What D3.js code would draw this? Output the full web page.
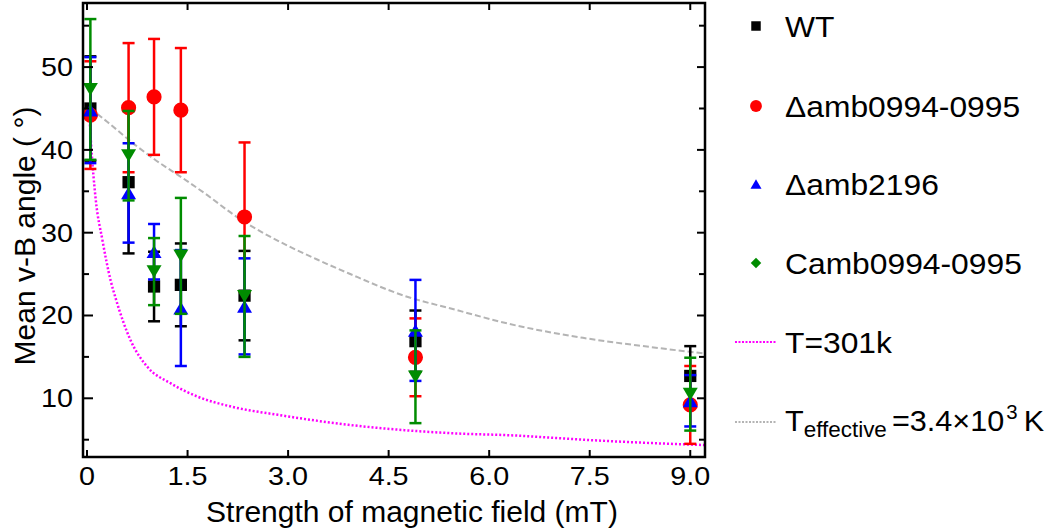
<!DOCTYPE html>
<html>
<head>
<meta charset="utf-8">
<script src="https://cdn.jsdelivr.net/npm/d3@7"></script>
<style>
  html, body { margin: 0; padding: 0; background: #fff; }
  svg { display: block; font-family: "Liberation Sans", Arial, sans-serif; }
</style>
</head>
<body>
<svg id="chart" width="1050" height="532"></svg>
<script>
// ---------- data ----------
const fieldStrength = [0.05, 0.62, 1.0, 1.4, 2.35, 4.9, 9.0];

const wtMean   = [45.0, 36.1, 23.5, 23.7, 22.4, 16.9, 12.7];
const wtErr    = [6.3, 8.6, 4.2, 5.0, 5.4, 3.7, 3.6];

const d0994Mean = [44.2, 45.1, 46.4, 44.8, 31.9, 14.95, 9.2];
const d0994Err  = [6.5, 7.8, 7.0, 7.5, 9.0, 4.7, 4.7];

const d2196Mean = [44.8, 34.8, 27.7, 20.9, 21.1, 18.2, 9.7];
const d2196Err  = [6.4, 6.0, 3.35, 7.0, 5.8, 6.1, 3.1];

const c0994Mean = [47.3, 39.3, 25.3, 27.2, 22.3, 12.6, 10.5];
const c0994Err  = [8.5, 5.4, 4.05, 7.0, 7.3, 5.6, 4.4];

// theory curves
const t301X = [0.03, 0.06, 0.13, 0.23, 0.35, 0.43, 0.65, 0.9, 1.25, 1.65, 2.15, 2.85, 3.9, 5.4, 6.4, 7.4, 8.4, 9.22];
const t301Y = [45.0, 40.8, 34.0, 29.1, 24.3, 22.0, 17.0, 13.8, 11.8, 10.2, 9.0, 8.0, 6.8, 5.8, 5.5, 5.0, 4.6, 4.35];

const tEffX = [0.05, 0.3, 0.75, 1.0, 1.5, 1.8, 2.2, 2.6, 3.0, 3.45, 3.9, 4.8, 5.4, 6.4, 7.4, 8.4, 9.22];
const tEffY = [45.0, 43.4, 40.4, 38.9, 36.2, 34.5, 32.1, 30.1, 28.4, 26.7, 25.1, 22.2, 20.9, 18.8, 17.3, 16.2, 15.4];

const xTicks = [0, 1.5, 3.0, 4.5, 6.0, 7.5, 9.0];
const xTickLabels = ["0", "1.5", "3.0", "4.5", "6.0", "7.5", "9.0"];
const yMajorTicks = [10, 20, 30, 40, 50];
const yMinorTicks = [5, 15, 25, 35, 45, 55];

const seriesNames = ["WT", "\u0394amb0994-0995", "\u0394amb2196", "Camb0994-0995"];
const seriesColors = ["#000000", "#ff0000", "#0000ff", "#008c00"];

// ---------- layout ----------
const svg = d3.select("#chart");
const L = 83, R = 705, T = 3, B = 457;

const x = d3.scaleLinear().domain([-0.06, 9.22]).range([L, R]);
const y = d3.scaleLinear().domain([2.91, 57.74]).range([B, T]);

const series = [
  { name: seriesNames[0], color: seriesColors[0], mean: wtMean, err: wtErr, shape: d3.symbolSquare, size: 150, legendShape: d3.symbolSquare, legendSize: 90 },
  { name: seriesNames[1], color: seriesColors[1], mean: d0994Mean, err: d0994Err, shape: d3.symbolCircle, size: 180, legendShape: d3.symbolCircle, legendSize: 110 },
  { name: seriesNames[2], color: seriesColors[2], mean: d2196Mean, err: d2196Err, shape: "up", size: 15, legendShape: "up", legendSize: 11 },
  { name: seriesNames[3], color: seriesColors[3], mean: c0994Mean, err: c0994Err, shape: "down", size: 15, legendShape: d3.symbolDiamond2, legendSize: 70 }
];

function tri(w, dir) {
  const h = w * 0.85;
  if (dir === "up") return `M0,${-h/2}L${w/2},${h/2}L${-w/2},${h/2}Z`;
  return `M0,${h/2}L${w/2},${-h/2}L${-w/2},${-h/2}Z`;
}
function markerPath(shape, size) {
  if (shape === "up" || shape === "down") return tri(size, shape);
  return d3.symbol().type(shape).size(size)();
}

// ---------- theory curves ----------
const plot = svg.append("g");
svg.append("clipPath").attr("id", "clip").append("rect")
  .attr("x", L).attr("y", T).attr("width", R - L).attr("height", B - T);

const line = d3.line().x(d => x(d[0])).y(d => y(d[1])).curve(d3.curveMonotoneX);

plot.append("path")
  .datum(tEffX.map((v, i) => [v, tEffY[i]]))
  .attr("d", line)
  .attr("fill", "none")
  .attr("stroke", "#b4b4b4")
  .attr("stroke-width", 2)
  .attr("stroke-dasharray", "6,3")
  .attr("clip-path", "url(#clip)");

plot.append("path")
  .datum(t301X.map((v, i) => [v, t301Y[i]]))
  .attr("d", line)
  .attr("fill", "none")
  .attr("stroke", "#ff00ff")
  .attr("stroke-width", 2.5)
  .attr("stroke-dasharray", "2,2")
  .attr("clip-path", "url(#clip)");

// ---------- error bars & markers ----------
series.forEach(s => {
  const g = plot.append("g");
  const data = fieldStrength.map((fx, i) => ({ fx, m: s.mean[i], e: s.err[i] }));
  const cap = 6;
  g.selectAll("line.bar").data(data).join("line")
    .attr("x1", d => x(d.fx)).attr("x2", d => x(d.fx))
    .attr("y1", d => y(d.m - d.e)).attr("y2", d => y(d.m + d.e))
    .attr("stroke", s.color).attr("stroke-width", 2.5);
  g.selectAll("line.capt").data(data).join("line")
    .attr("x1", d => x(d.fx) - cap).attr("x2", d => x(d.fx) + cap)
    .attr("y1", d => y(d.m + d.e)).attr("y2", d => y(d.m + d.e))
    .attr("stroke", s.color).attr("stroke-width", 2.5);
  g.selectAll("line.capb").data(data).join("line")
    .attr("x1", d => x(d.fx) - cap).attr("x2", d => x(d.fx) + cap)
    .attr("y1", d => y(d.m - d.e)).attr("y2", d => y(d.m - d.e))
    .attr("stroke", s.color).attr("stroke-width", 2.5);
  g.selectAll("path.mk").data(data).join("path")
    .attr("d", markerPath(s.shape, s.size))
    .attr("transform", d => `translate(${x(d.fx)},${y(d.m)})`)
    .attr("fill", s.color);
});

// ---------- frame & ticks ----------
const axes = svg.append("g").attr("stroke", "#000").attr("stroke-width", 2.5);
axes.append("rect").attr("x", L).attr("y", T).attr("width", R - L).attr("height", B - T)
  .attr("fill", "none");

const ticksG = svg.append("g").attr("stroke", "#000").attr("stroke-width", 2);
xTicks.forEach(v => {
  ticksG.append("line").attr("x1", x(v)).attr("x2", x(v)).attr("y1", B).attr("y2", B - 7);
  ticksG.append("line").attr("x1", x(v)).attr("x2", x(v)).attr("y1", T).attr("y2", T + 7);
});
yMajorTicks.forEach(v => {
  ticksG.append("line").attr("x1", L).attr("x2", L + 10).attr("y1", y(v)).attr("y2", y(v));
  ticksG.append("line").attr("x1", R).attr("x2", R - 8).attr("y1", y(v)).attr("y2", y(v));
});
yMinorTicks.forEach(v => {
  ticksG.append("line").attr("x1", L).attr("x2", L + 6).attr("y1", y(v)).attr("y2", y(v));
  ticksG.append("line").attr("x1", R).attr("x2", R - 6).attr("y1", y(v)).attr("y2", y(v));
});

// tick labels
const tl = svg.append("g").attr("font-size", 25).attr("fill", "#000");
xTicks.forEach((v, i) => {
  tl.append("text").attr("x", x(v)).attr("y", 485).attr("text-anchor", "middle")
    .attr("transform", `translate(${x(v)},0) scale(1.15,1) translate(${-x(v)},0)`)
    .text(xTickLabels[i]);
});
yMajorTicks.forEach(v => {
  tl.append("text").attr("x", 73).attr("y", y(v) + 9).attr("text-anchor", "end")
    .attr("transform", `translate(73,0) scale(1.15,1) translate(-73,0)`)
    .text(String(v));
});

// axis titles
svg.append("text").attr("x", 412).attr("y", 522).attr("text-anchor", "middle")
  .attr("font-size", 30).text("Strength of magnetic field (mT)");
svg.append("text").attr("transform", "translate(35,236) rotate(-90)")
  .attr("text-anchor", "middle").attr("font-size", 30).text("Mean v-B angle ( \u00b0)");

// ---------- legend ----------
const leg = svg.append("g");
const legRows = [26, 106, 184, 263, 342, 422];
const mx = 756, tx = 785;
const stretch = `translate(${tx},0) scale(1.06,1) translate(${-tx},0)`;
series.forEach((s, i) => {
  leg.append("path").attr("d", markerPath(s.legendShape, s.legendSize))
    .attr("transform", `translate(${mx},${legRows[i]})`).attr("fill", s.color);
  leg.append("text").attr("x", tx).attr("y", legRows[i] + 11).attr("font-size", 30)
    .attr("transform", stretch)
    .text(s.name);
});
leg.append("line").attr("x1", 735).attr("x2", 777).attr("y1", legRows[4]).attr("y2", legRows[4])
  .attr("stroke", "#ff00ff").attr("stroke-width", 2).attr("stroke-dasharray", "2,1.5");
leg.append("text").attr("x", tx).attr("y", legRows[4] + 11).attr("font-size", 30)
  .attr("transform", stretch).text("T=301k");

leg.append("line").attr("x1", 735).attr("x2", 777).attr("y1", legRows[5]).attr("y2", legRows[5])
  .attr("stroke", "#b4b4b4").attr("stroke-width", 2).attr("stroke-dasharray", "2,1.5");
const te = leg.append("text").attr("x", tx).attr("y", legRows[5] + 9).attr("font-size", 30)
  .attr("transform", `translate(${tx},0) scale(1.02,1) translate(${-tx},0)`);
te.append("tspan").text("T");
te.append("tspan").attr("font-size", 22).attr("dy", 6).text("effective");
te.append("tspan").attr("dy", -6).attr("dx", 5).text("=3.4\u00d710");
te.append("tspan").attr("font-size", 20).attr("dy", -12).attr("dx", 2).text("3");
te.append("tspan").attr("dy", 12).attr("dx", 6).text("K");
</script>
</body>
</html>
